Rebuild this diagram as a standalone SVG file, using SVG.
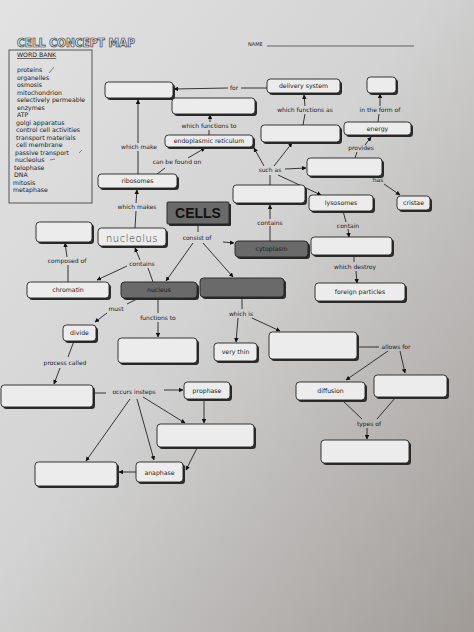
<svg xmlns="http://www.w3.org/2000/svg" width="474" height="632" viewBox="0 0 474 632">
<defs>
<linearGradient id="bg" x1="0" y1="0" x2="1" y2="1">
<stop offset="0" stop-color="#e2e2e2"/>
<stop offset="0.45" stop-color="#d3d3d3"/>
<stop offset="1" stop-color="#a09b97"/>
</linearGradient>
<marker id="ah" viewBox="0 0 10 10" refX="9" refY="5" markerWidth="5" markerHeight="5" orient="auto">
<path d="M0,0 L10,5 L0,10 z" fill="#111"/>
</marker>
<style>
.sh{fill:#2a2a2a}
.bx{fill:#ececec;stroke:#222;stroke-width:0.9}
.dk{fill:#6a6a6a;stroke:#222;stroke-width:0.9}
.t{font-family:"DejaVu Sans",sans-serif;font-size:6.2px;fill:#1a1a1a;text-anchor:middle}
.l{font-family:"DejaVu Sans",sans-serif;font-size:6px;fill:#1a1a1a;text-anchor:middle}
.wb{font-family:"DejaVu Sans",sans-serif;font-size:6.2px;fill:#1a1a1a}
.ln{stroke:#222;stroke-width:0.9;fill:none}
.ar{stroke:#222;stroke-width:0.9;fill:none;marker-end:url(#ah)}
</style>
</defs>
<rect x="0" y="0" width="474" height="632" fill="url(#bg)"/>

<!-- header -->
<text x="17" y="47" font-family="DejaVu Sans Condensed, DejaVu Sans, sans-serif" font-weight="bold" font-size="13" fill="#e4e4e4" stroke="#333" stroke-width="0.7" textLength="118" lengthAdjust="spacingAndGlyphs">CELL CONCEPT MAP</text>
<text x="248" y="46" font-family="DejaVu Sans, sans-serif" font-size="5" fill="#222">NAME</text>
<line x1="267" y1="46" x2="414" y2="46" stroke="#333" stroke-width="0.7"/>

<!-- word bank -->
<g id="wordbank">
<rect x="9" y="50" width="83" height="153" fill="none" stroke="#333" stroke-width="0.8"/>
<text x="17" y="57" class="wb" text-decoration="underline">WORD BANK</text>
<text x="17" y="72" class="wb">proteins</text>
<text x="17" y="79.5" class="wb">organelles</text>
<text x="17" y="87" class="wb">osmosis</text>
<text x="17" y="94.5" class="wb">mitochondrion</text>
<text x="17" y="102" class="wb">selectively permeable</text>
<text x="17" y="109.5" class="wb">enzymes</text>
<text x="17" y="117" class="wb">ATP</text>
<text x="16" y="124.5" class="wb">golgi apparatus</text>
<text x="16" y="132" class="wb">control  cell activities</text>
<text x="16" y="139.5" class="wb">transport materials</text>
<text x="16" y="147" class="wb">cell membrane</text>
<text x="15" y="154.5" class="wb">passive transport</text>
<text x="15" y="162" class="wb">nucleolus</text>
<text x="14" y="169.5" class="wb">telophase</text>
<text x="14" y="177" class="wb">DNA</text>
<text x="13" y="184.5" class="wb">mitosis</text>
<text x="13" y="192" class="wb">metaphase</text>
<path d="M49,73 L54,67 M79,153 L82,150 M50,160 L55,159" stroke="#444" stroke-width="0.6" fill="none"/>
</g>

<!-- connectors -->
<g id="connectors">
<line class="ln" x1="267" y1="88" x2="241" y2="88"/>
<line class="ar" x1="228" y1="88" x2="174" y2="89"/>
<line class="ln" x1="209" y1="135" x2="209" y2="130"/>
<line class="ar" x1="210" y1="122" x2="210" y2="115"/>
<line class="ln" x1="303" y1="125" x2="305" y2="114"/>
<line class="ar" x1="305" y1="106" x2="304" y2="95"/>
<line class="ln" x1="378" y1="122" x2="379" y2="114"/>
<line class="ar" x1="380" y1="106" x2="380" y2="94"/>
<line class="ln" x1="355" y1="158" x2="357" y2="152"/>
<line class="ar" x1="365" y1="145" x2="371" y2="137"/>
<line class="ln" x1="138" y1="174" x2="138" y2="151"/>
<line class="ar" x1="138" y1="143" x2="138" y2="100"/>
<line class="ln" x1="157" y1="174" x2="165" y2="168"/>
<line class="ar" x1="188" y1="158" x2="205" y2="148"/>
<line class="ar" x1="264" y1="166" x2="254" y2="148"/>
<line class="ar" x1="274" y1="166" x2="292" y2="143"/>
<line class="ar" x1="285" y1="169" x2="306" y2="168"/>
<line class="ar" x1="278" y1="175" x2="321" y2="195"/>
<line class="ln" x1="270" y1="175" x2="270" y2="185"/>
<line class="ln" x1="370" y1="176" x2="373" y2="178"/>
<line class="ar" x1="384" y1="184" x2="400" y2="195"/>
<line class="ln" x1="135" y1="228" x2="136" y2="211"/>
<line class="ar" x1="136" y1="203" x2="137" y2="190"/>
<line class="ln" x1="198" y1="224" x2="198" y2="232"/>
<line class="ar" x1="223" y1="242" x2="234" y2="243"/>
<line class="ar" x1="193" y1="243" x2="166" y2="281"/>
<line class="ar" x1="203" y1="243" x2="233" y2="277"/>
<line class="ln" x1="270" y1="241" x2="270" y2="226"/>
<line class="ar" x1="270" y1="219" x2="270" y2="205"/>
<line class="ln" x1="343" y1="211" x2="346" y2="222"/>
<line class="ar" x1="348" y1="229" x2="349" y2="237"/>
<line class="ln" x1="354" y1="255" x2="354" y2="262"/>
<line class="ar" x1="356" y1="271" x2="357" y2="283"/>
<line class="ln" x1="68" y1="282" x2="68" y2="265"/>
<line class="ar" x1="67" y1="257" x2="65" y2="243"/>
<line class="ln" x1="153" y1="282" x2="148" y2="268"/>
<line class="ar" x1="140" y1="260" x2="135" y2="248"/>
<line class="ar" x1="127" y1="266" x2="97" y2="280"/>
<line class="ln" x1="137" y1="299" x2="127" y2="304"/>
<line class="ar" x1="107" y1="313" x2="95" y2="322"/>
<line class="ln" x1="158" y1="298" x2="158" y2="313"/>
<line class="ar" x1="158" y1="322" x2="158" y2="337"/>
<line class="ln" x1="242" y1="297" x2="242" y2="309"/>
<line class="ar" x1="238" y1="318" x2="236" y2="342"/>
<line class="ar" x1="252" y1="318" x2="280" y2="331"/>
<line class="ln" x1="357" y1="347" x2="379" y2="347"/>
<line class="ar" x1="388" y1="351" x2="346" y2="380"/>
<line class="ar" x1="400" y1="351" x2="405" y2="373"/>
<line class="ln" x1="342" y1="400" x2="362" y2="419"/>
<line class="ln" x1="396" y1="397" x2="377" y2="419"/>
<line class="ar" x1="367" y1="428" x2="367" y2="439"/>
<line class="ln" x1="74" y1="341" x2="68" y2="357"/>
<line class="ar" x1="60" y1="368" x2="54" y2="384"/>
<line class="ln" x1="93" y1="393" x2="106" y2="393"/>
<line class="ar" x1="164" y1="390" x2="183" y2="390"/>
<line class="ar" x1="143" y1="397" x2="185" y2="423"/>
<line class="ar" x1="137" y1="399" x2="154" y2="460"/>
<line class="ar" x1="130" y1="399" x2="86" y2="461"/>
<line class="ar" x1="204" y1="399" x2="204" y2="423"/>
<line class="ar" x1="197" y1="448" x2="186" y2="470"/>
<line class="ar" x1="136" y1="472" x2="119" y2="472"/>
</g>

<!-- connector labels -->
<g id="labels">
<text class="l" x="234" y="90">for</text>
<text class="l" x="209" y="128">which functions to</text>
<text class="l" x="305" y="112">which functions as</text>
<text class="l" x="380" y="112">in the form of</text>
<text class="l" x="361" y="150">provides</text>
<text class="l" x="139" y="149">which make</text>
<text class="l" x="177" y="164">can be found on</text>
<text class="l" x="270" y="172">such as</text>
<text class="l" x="378" y="182">has</text>
<text class="l" x="137" y="209">which makes</text>
<text class="l" x="197" y="240" font-size="7.4">consist of</text>
<text class="l" x="270" y="225">contains</text>
<text class="l" x="348" y="228">contain</text>
<text class="l" x="355" y="269">which destroy</text>
<text class="l" x="67" y="263">composed of</text>
<text class="l" x="142" y="266">contains</text>
<text class="l" x="116" y="311">must</text>
<text class="l" x="158" y="320">functions to</text>
<text class="l" x="241" y="316">which is</text>
<text class="l" x="396" y="349">allows for</text>
<text class="l" x="369" y="426">types of</text>
<text class="l" x="65" y="365">process called</text>
<text class="l" x="134" y="394">occurs insteps</text>
</g>

<!-- nodes -->
<g id="n1"><rect class="sh" x="107" y="84" width="68" height="16" rx="3.5"/><rect class="bx" x="105" y="82" width="68" height="16" rx="3.5"/></g>
<g id="n2"><rect class="sh" x="174" y="100" width="83" height="16" rx="3.5"/><rect class="bx" x="172" y="98" width="83" height="16" rx="3.5"/></g>
<g id="n3"><rect class="sh" x="269" y="81" width="73" height="14" rx="3.5"/><rect class="bx" x="267" y="79" width="73" height="14" rx="3.5"/><text class="t" x="303.5" y="88">delivery system</text></g>
<g id="n4"><rect class="sh" x="369" y="79" width="29" height="16" rx="3.5"/><rect class="bx" x="367" y="77" width="29" height="16" rx="3.5"/></g>
<g id="n5"><rect class="sh" x="346" y="124" width="67" height="13" rx="3.5"/><rect class="bx" x="344" y="122" width="67" height="13" rx="3.5"/><text class="t" x="377.5" y="130.5">energy</text></g>
<g id="n6"><rect class="sh" x="263" y="127" width="79" height="17" rx="3.5"/><rect class="bx" x="261" y="125" width="79" height="17" rx="3.5"/></g>
<g id="n7"><rect class="sh" x="167" y="137" width="88" height="12" rx="3.5"/><rect class="bx" x="165" y="135" width="88" height="12" rx="3.5"/><text class="t" x="209" y="143">endoplasmic reticulum</text></g>
<g id="n8"><rect class="sh" x="309" y="160" width="75" height="18" rx="3.5"/><rect class="bx" x="307" y="158" width="75" height="18" rx="3.5"/></g>
<g id="n9"><rect class="sh" x="100" y="176" width="79" height="14" rx="3.5"/><rect class="bx" x="98" y="174" width="79" height="14" rx="3.5"/><text class="t" x="137.5" y="183">ribosomes</text></g>
<g id="n10"><rect class="sh" x="235" y="187" width="72" height="18" rx="3.5"/><rect class="bx" x="233" y="185" width="72" height="18" rx="3.5"/></g>
<g id="n11"><rect class="sh" x="311" y="197" width="64" height="16" rx="3.5"/><rect class="bx" x="309" y="195" width="64" height="16" rx="3.5"/><text class="t" x="341" y="205">lysosomes</text></g>
<g id="n12"><rect class="sh" x="399" y="198" width="33" height="14" rx="3.5"/><rect class="bx" x="397" y="196" width="33" height="14" rx="3.5"/><text class="t" x="413.5" y="205">cristae</text></g>
<g id="n13"><rect class="sh" x="169" y="204" width="62" height="22" rx="1"/><rect class="dk" x="167" y="202" width="62" height="22" rx="1"/><text x="198" y="218" font-family="Liberation Sans, Arial, sans-serif" font-weight="bold" font-size="14" fill="#111" text-anchor="middle">CELLS</text></g>
<g id="n14"><rect class="sh" x="38" y="224" width="56" height="20" rx="3.5"/><rect class="bx" x="36" y="222" width="56" height="20" rx="3.5"/></g>
<g id="n15"><rect class="sh" x="100" y="230" width="68" height="18" rx="3.5"/><rect class="bx" x="98" y="228" width="68" height="18" rx="3.5"/><text x="132" y="241.5" font-family="DejaVu Sans, sans-serif" font-size="10" font-weight="300" fill="#2e2e2e" text-anchor="middle" letter-spacing="0.5">nucleolus</text></g>
<g id="n16"><rect class="sh" x="237" y="243" width="73" height="16" rx="3.5"/><rect class="dk" x="235" y="241" width="73" height="16" rx="3.5"/><text class="t" x="271.5" y="251">cytoplasm</text></g>
<g id="n17"><rect class="sh" x="313" y="239" width="81" height="18" rx="3.5"/><rect class="bx" x="311" y="237" width="81" height="18" rx="3.5"/></g>
<g id="n18"><rect class="sh" x="29" y="284" width="82" height="16" rx="3.5"/><rect class="bx" x="27" y="282" width="82" height="16" rx="3.5"/><text class="t" x="68" y="292">chromatin</text></g>
<g id="n19"><rect class="sh" x="123" y="284" width="76" height="16" rx="3.5"/><rect class="dk" x="121" y="282" width="76" height="16" rx="3.5"/><text class="t" x="159" y="292">nucleus</text></g>
<g id="n20"><rect class="sh" x="202" y="280" width="84" height="19" rx="3.5"/><rect class="dk" x="200" y="278" width="84" height="19" rx="3.5"/></g>
<g id="n21"><rect class="sh" x="317" y="285" width="90" height="18" rx="3.5"/><rect class="bx" x="315" y="283" width="90" height="18" rx="3.5"/><text class="t" x="360" y="294">foreign particles</text></g>
<g id="n22"><rect class="sh" x="65" y="327" width="33" height="16" rx="3.5"/><rect class="bx" x="63" y="325" width="33" height="16" rx="3.5"/><text class="t" x="79.5" y="335">divide</text></g>
<g id="n23"><rect class="sh" x="120" y="340" width="79" height="25" rx="3.5"/><rect class="bx" x="118" y="338" width="79" height="25" rx="3.5"/></g>
<g id="n24"><rect class="sh" x="216" y="345" width="43" height="18" rx="3.5"/><rect class="bx" x="214" y="343" width="43" height="18" rx="3.5"/><text class="t" x="235.5" y="354">very thin</text></g>
<g id="n25"><rect class="sh" x="271" y="334" width="88" height="27" rx="3.5"/><rect class="bx" x="269" y="332" width="88" height="27" rx="3.5"/></g>
<g id="n26"><rect class="sh" x="3" y="387" width="92" height="22" rx="3.5"/><rect class="bx" x="1" y="385" width="92" height="22" rx="3.5"/></g>
<g id="n27"><rect class="sh" x="186" y="384" width="46" height="17" rx="3.5"/><rect class="bx" x="184" y="382" width="46" height="17" rx="3.5"/><text class="t" x="207" y="392.5">prophase</text></g>
<g id="n28"><rect class="sh" x="298" y="384" width="69" height="18" rx="3.5"/><rect class="bx" x="296" y="382" width="69" height="18" rx="3.5"/><text class="t" x="330.5" y="393">diffusion</text></g>
<g id="n29"><rect class="sh" x="376" y="377" width="73" height="22" rx="3.5"/><rect class="bx" x="374" y="375" width="73" height="22" rx="3.5"/></g>
<g id="n30"><rect class="sh" x="159" y="426" width="97" height="23" rx="3.5"/><rect class="bx" x="157" y="424" width="97" height="23" rx="3.5"/></g>
<g id="n31"><rect class="sh" x="323" y="442" width="88" height="23" rx="3.5"/><rect class="bx" x="321" y="440" width="88" height="23" rx="3.5"/></g>
<g id="n32"><rect class="sh" x="37" y="464" width="82" height="24" rx="3.5"/><rect class="bx" x="35" y="462" width="82" height="24" rx="3.5"/></g>
<g id="n33"><rect class="sh" x="138" y="464" width="47" height="20" rx="3.5"/><rect class="bx" x="136" y="462" width="47" height="20" rx="3.5"/><text class="t" x="159.5" y="474.5">anaphase</text></g>
</svg>
